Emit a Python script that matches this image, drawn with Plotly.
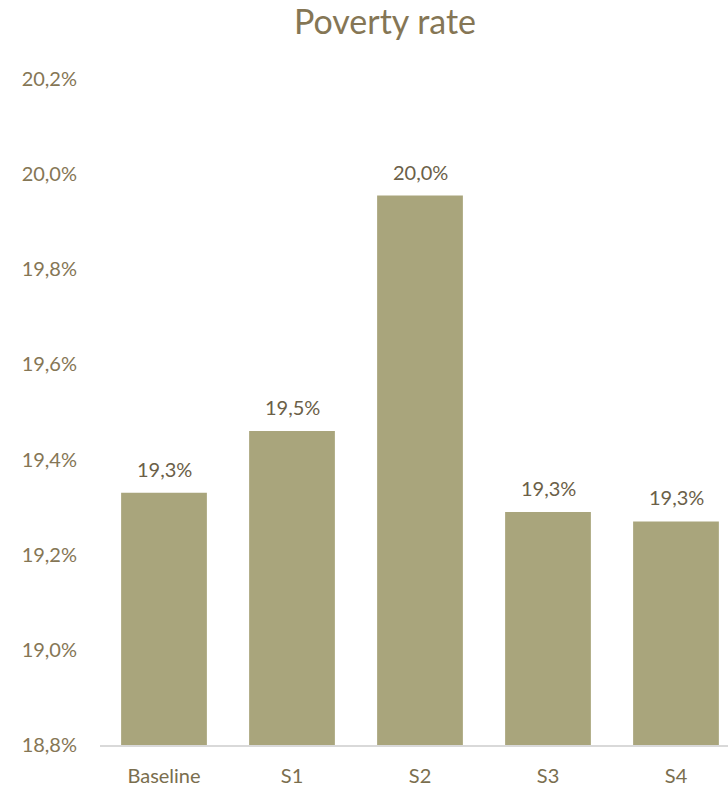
import plotly.graph_objects as go

categories = ["Baseline", "S1", "S2", "S3", "S4"]
poverty_rate = [19.33, 19.46, 19.955, 19.29, 19.27]
y_ticks = [18.8, 19.0, 19.2, 19.4, 19.6, 19.8, 20.0, 20.2]
y_tick_labels = ["18,8%", "19,0%", "19,2%", "19,4%", "19,6%", "19,8%", "20,0%", "20,2%"]

FONT = "Lato, 'Open Sans', sans-serif"

fig = go.Figure(go.Bar(
    x=categories,
    y=poverty_rate,
    marker=dict(color="#A9A57C", line=dict(width=0)),
    width=0.67,
    hoverinfo="skip",
))

for c, v in zip(categories, poverty_rate):
    fig.add_annotation(
        x=c, y=v, xref="x", yref="y",
        text=f"{v:.1f}%".replace(".", ","),
        showarrow=False, yanchor="bottom", yshift=10,
        font=dict(family=FONT, size=20, color="#6B6048"),
    )

fig.update_layout(
    width=728, height=787,
    paper_bgcolor="white", plot_bgcolor="white",
    separators=", ",
    margin=dict(l=100, r=0, t=79, b=42, autoexpand=False),
    title=dict(text="Poverty rate", x=385 / 728, xref="container", xanchor="center",
               y=1 - 22 / 787, yanchor="middle",
               font=dict(family=FONT, size=34, color="#857655")),
    showlegend=False,
)
fig.update_xaxes(
    range=[-0.5, -0.5 + 628 / 128],
    showline=True, linecolor="#D9D9D9", linewidth=1.5,
    showgrid=False, ticks="", automargin=False,
    tickfont=dict(family=FONT, size=20, color="#7A6E4E"),
    ticklabelstandoff=12,
)
fig.update_yaxes(
    range=[18.8, 20.2],
    tickvals=y_ticks, ticktext=y_tick_labels,
    showgrid=False, zeroline=False, showline=False, automargin=False,
    tickfont=dict(family=FONT, size=20, color="#857655"),
    ticklabelstandoff=22,
)

fig.write_html(
    "out.html",
    config={"displayModeBar": False},
    post_script="document.body.style.margin='0';document.body.style.overflow='hidden';",
)
